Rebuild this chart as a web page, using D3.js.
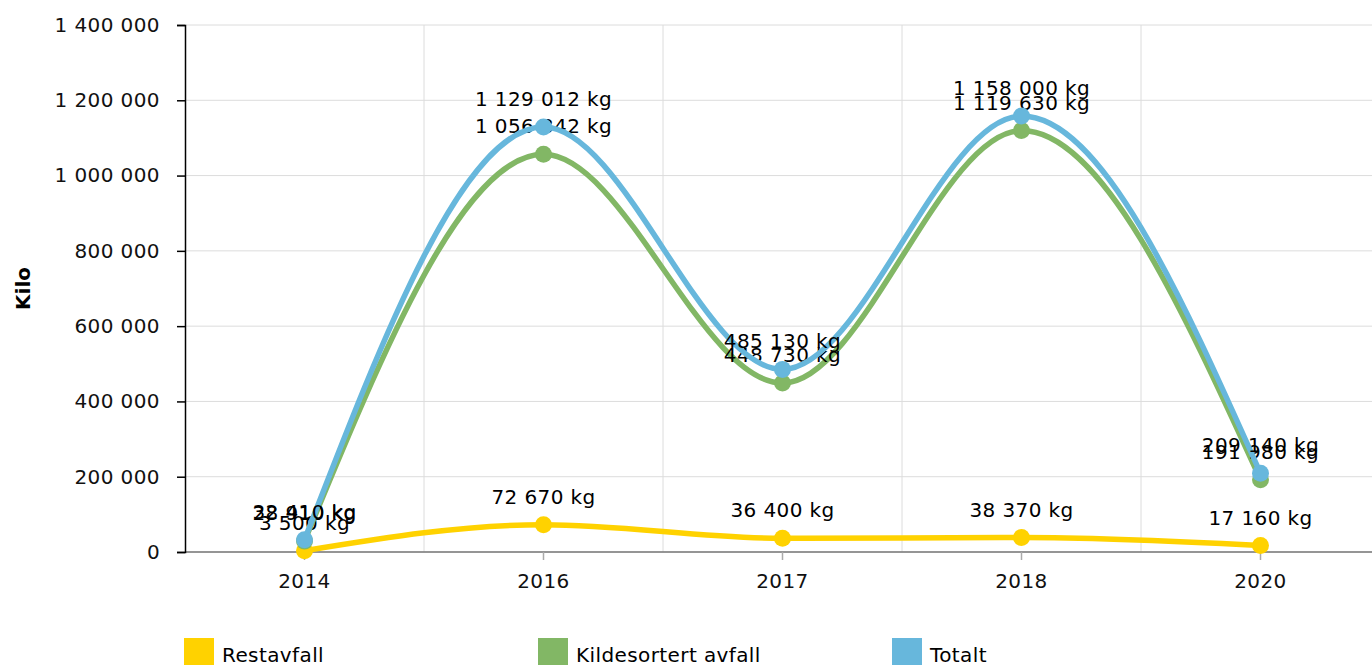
<!DOCTYPE html>
<html>
<head>
<meta charset="utf-8" />
<title>Avfall</title>
<script src="https://cdn.jsdelivr.net/npm/d3@7"></script>
<style>
    html, body { margin: 0; padding: 0; background: #fff; }
    text { font-family: "DejaVu Sans", Verdana, sans-serif; }
</style>
</head>
<body>
<script>
    // data
    var years = ['2014', '2016', '2017', '2018', '2020'];
    var restavfall = [3500, 72670, 36400, 38370, 17160];
    var kildesortert = [28910, 1056342, 448730, 1119630, 191980];
    var totalt = [32410, 1129012, 485130, 1158000, 209140];
    var seriesNames = ['Restavfall', 'Kildesortert avfall', 'Totalt'];
    var seriesColors = ['#ffd200', '#82b765', '#67b7dc'];
    var yTicks = [0, 200000, 400000, 600000, 800000, 1000000, 1200000, 1400000];

    var series = [restavfall, kildesortert, totalt];

    var width = 1372, height = 665;
    var plotLeft = 185, plotTop = 25, plotBottom = 552;
    var bandW = 239;
    var fs = 20, ls = 0.4;

    var svg = d3.select('body').append('svg').attr('width', width).attr('height', height);

    var x = d3.scaleBand().domain(years).range([plotLeft, plotLeft + bandW * years.length]);
    var y = d3.scaleLinear().domain([0, 1400000]).range([plotBottom, plotTop]);

    var fmt = function (v) { return d3.format(',')(v).replace(/,/g, ' '); };

    // grid
    svg.append('g').selectAll('line').data(yTicks).enter().append('line')
        .attr('x1', plotLeft).attr('x2', width)
        .attr('y1', d => y(d)).attr('y2', d => y(d))
        .attr('stroke', '#dcdcdc').attr('stroke-width', 1);
    svg.append('g').selectAll('line').data(years.slice(1)).enter().append('line')
        .attr('x1', d => x(d)).attr('x2', d => x(d))
        .attr('y1', plotTop).attr('y2', plotBottom)
        .attr('stroke', '#dcdcdc').attr('stroke-width', 1);

    // x axis
    var xAxis = svg.append('g').attr('transform', 'translate(0,' + plotBottom + ')')
        .call(d3.axisBottom(x).tickSize(8).tickPadding(14));
    xAxis.select('.domain').attr('d', 'M' + plotLeft + ',0H' + width).attr('stroke', '#777').attr('stroke-width', 1.5);
    xAxis.selectAll('.tick line').attr('stroke', '#aaa').attr('stroke-width', 1.5);
    xAxis.selectAll('text').attr('font-size', fs).attr('letter-spacing', ls).attr('fill', '#111')
        .attr('font-family', '"DejaVu Sans", Verdana, sans-serif');

    // y axis
    var yAxis = svg.append('g').attr('transform', 'translate(' + plotLeft + ',0)')
        .call(d3.axisLeft(y).tickValues(yTicks).tickSize(8).tickSizeOuter(8).tickPadding(17).tickFormat(fmt));
    yAxis.select('.domain').attr('stroke', '#000').attr('stroke-width', 1.5);
    yAxis.selectAll('.tick line').attr('stroke', '#000').attr('stroke-width', 1.5);
    yAxis.selectAll('text').attr('font-size', fs).attr('letter-spacing', ls).attr('fill', '#111')
        .attr('font-family', '"DejaVu Sans", Verdana, sans-serif');

    svg.append('text')
        .attr('transform', 'translate(30,' + ((plotTop + plotBottom) / 2) + ') rotate(-90)')
        .attr('text-anchor', 'middle')
        .attr('font-size', fs).attr('font-weight', 'bold').attr('fill', '#000')
        .text('Kilo');

    var line = d3.line()
        .x((d, i) => x(years[i]) + x.bandwidth() / 2)
        .y(d => y(d))
        .curve(d3.curveMonotoneX);

    var gSeries = svg.append('g').selectAll('g').data(series).enter().append('g');
    gSeries.append('path')
        .attr('d', d => line(d))
        .attr('fill', 'none')
        .attr('stroke', (d, i) => seriesColors[i])
        .attr('stroke-width', 5.5);
    gSeries.each(function (s, si) {
        d3.select(this).selectAll('circle').data(s).enter().append('circle')
            .attr('cx', (d, i) => x(years[i]) + x.bandwidth() / 2)
            .attr('cy', d => y(d))
            .attr('r', 8.5)
            .attr('fill', seriesColors[si]);
    });

    // value labels
    gSeries.each(function (s) {
        d3.select(this).selectAll('text').data(s).enter().append('text')
            .attr('x', (d, i) => x(years[i]) + x.bandwidth() / 2)
            .attr('y', d => y(d) - 21)
            .attr('text-anchor', 'middle')
            .attr('font-size', fs).attr('letter-spacing', ls).attr('fill', '#000')
            .text(d => fmt(d) + ' kg');
    });

    // legend
    var legend = svg.append('g').selectAll('g').data(seriesNames).enter().append('g')
        .attr('transform', (d, i) => 'translate(' + (184 + i * 354) + ',638)');
    legend.append('rect').attr('width', 30).attr('height', 30).attr('fill', (d, i) => seriesColors[i]);
    legend.append('text').attr('x', 38).attr('y', 24)
        .attr('font-size', fs).attr('letter-spacing', ls).attr('fill', '#000')
        .text(d => d);
</script>
</body>
</html>
